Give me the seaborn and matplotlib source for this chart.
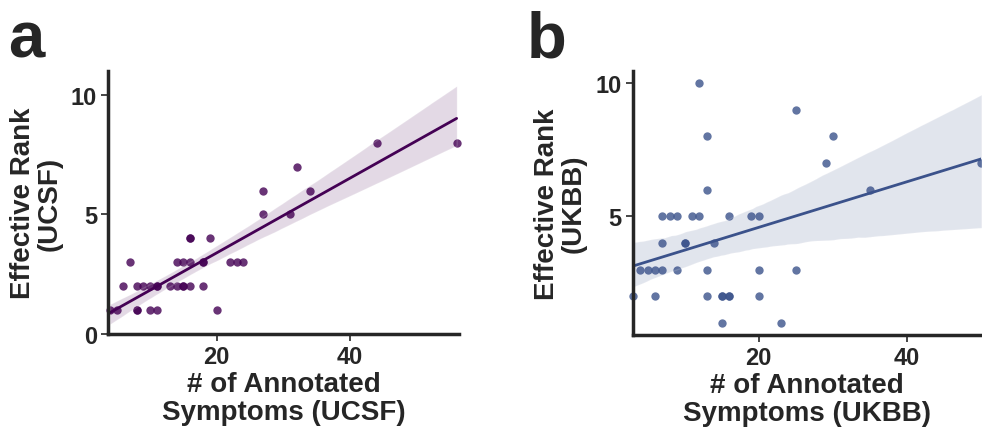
import numpy as np
import pandas as pd
import matplotlib
matplotlib.use("Agg")
import matplotlib.pyplot as plt
from matplotlib.ticker import MultipleLocator
import seaborn as sns

# ---- data: panel a (UCSF) ----
ucsf_symptoms = [4, 5, 8, 8, 10, 11, 20,
                 6, 8, 9, 10, 11, 11, 13, 14, 15, 15, 16, 18,
                 7, 14, 15, 16, 18, 18, 22, 23, 24,
                 16, 16, 19,
                 27, 31,
                 27, 34,
                 32,
                 44, 56]
ucsf_rank = [1, 1, 1, 1, 1, 1, 1,
             2, 2, 2, 2, 2, 2, 2, 2, 2, 2, 2, 2,
             3, 3, 3, 3, 3, 3, 3, 3, 3,
             4, 4, 4,
             5, 5,
             6, 6,
             7,
             8, 8]

# ---- data: panel b (UKBB) ----
ukbb_symptoms = [12,
                 25,
                 13, 30,
                 29, 50,
                 13, 35,
                 7, 8, 9, 11, 12, 16, 19, 20,
                 7, 10, 10, 14,
                 4, 5, 6, 7, 9, 13, 20, 25,
                 3, 6, 13, 15, 15, 16, 16, 20,
                 15, 23]
ukbb_rank = [10,
             9,
             8, 8,
             7, 7,
             6, 6,
             5, 5, 5, 5, 5, 5, 5, 5,
             4, 4, 4, 4,
             3, 3, 3, 3, 3, 3, 3, 3,
             2, 2, 2, 2, 2, 2, 2, 2,
             1, 1]

x_ticks = [20, 40]
color_a = "#440154"
color_b = "#3b528b"

sns.set_theme(style="ticks")
plt.rcParams["font.family"] = ["Liberation Sans", "DejaVu Sans"]
plt.rcParams["font.weight"] = "bold"
plt.rcParams["axes.labelweight"] = "bold"

fig = plt.figure(figsize=(9.82, 4.31), dpi=100)
ax_a = fig.add_axes([108.3 / 982, (431 - 335) / 431, (459.3 - 108.3) / 982, (335 - 72) / 431])
ax_b = fig.add_axes([632.7 / 982, (431 - 336) / 431, (981.3 - 632.7) / 982, (336 - 72) / 431])

df_a = pd.DataFrame({"x": ucsf_symptoms, "y": ucsf_rank})
df_b = pd.DataFrame({"x": ukbb_symptoms, "y": ukbb_rank})

sns.regplot(data=df_a, x="x", y="y", ax=ax_a, color=color_a, seed=0,
            scatter_kws=dict(s=36, alpha=0.8, linewidths=0, clip_on=False),
            line_kws=dict(lw=2))
sns.regplot(data=df_b, x="x", y="y", ax=ax_b, color=color_b, seed=0,
            scatter_kws=dict(s=36, alpha=0.8, linewidths=0, clip_on=False),
            line_kws=dict(lw=2))

ax_a.set_xlim(3.75, 56.4)
ax_a.set_ylim(0, 11)
ax_a.yaxis.set_major_locator(MultipleLocator(5))
ax_b.set_xlim(3, 50)
ax_b.set_ylim(0.55, 10.45)
ax_b.yaxis.set_major_locator(MultipleLocator(5))

for ax, xl, yl in [(ax_a, "# of Annotated\nSymptoms (UCSF)", "Effective Rank\n(UCSF)"),
                   (ax_b, "# of Annotated\nSymptoms (UKBB)", "Effective Rank\n(UKBB)")]:
    ax.set_xticks(x_ticks)
    ax.set_xlabel(xl, fontsize=20, fontweight="bold", labelpad=2, linespacing=1.1)
    ax.set_ylabel(yl, fontsize=20, fontweight="bold", labelpad=6, linespacing=1.05)
    ax.tick_params(labelsize=17, width=1.2, length=5, color="#262626", pad=3)
    for lab in ax.get_xticklabels() + ax.get_yticklabels():
        lab.set_fontweight("bold")
    for side in ["top", "right"]:
        ax.spines[side].set_visible(False)
    for side in ["left", "bottom"]:
        ax.spines[side].set_linewidth(2.5)
        ax.spines[side].set_color("#262626")

fig.text(8 / 982, 1 - 57 / 431, "a", fontsize=47, fontweight="bold", color="#262626", va="baseline")
fig.text(527 / 982, 1 - 57 / 431, "b", fontsize=47, fontweight="bold", color="#262626", va="baseline")

fig.savefig("out.png", dpi=100)
